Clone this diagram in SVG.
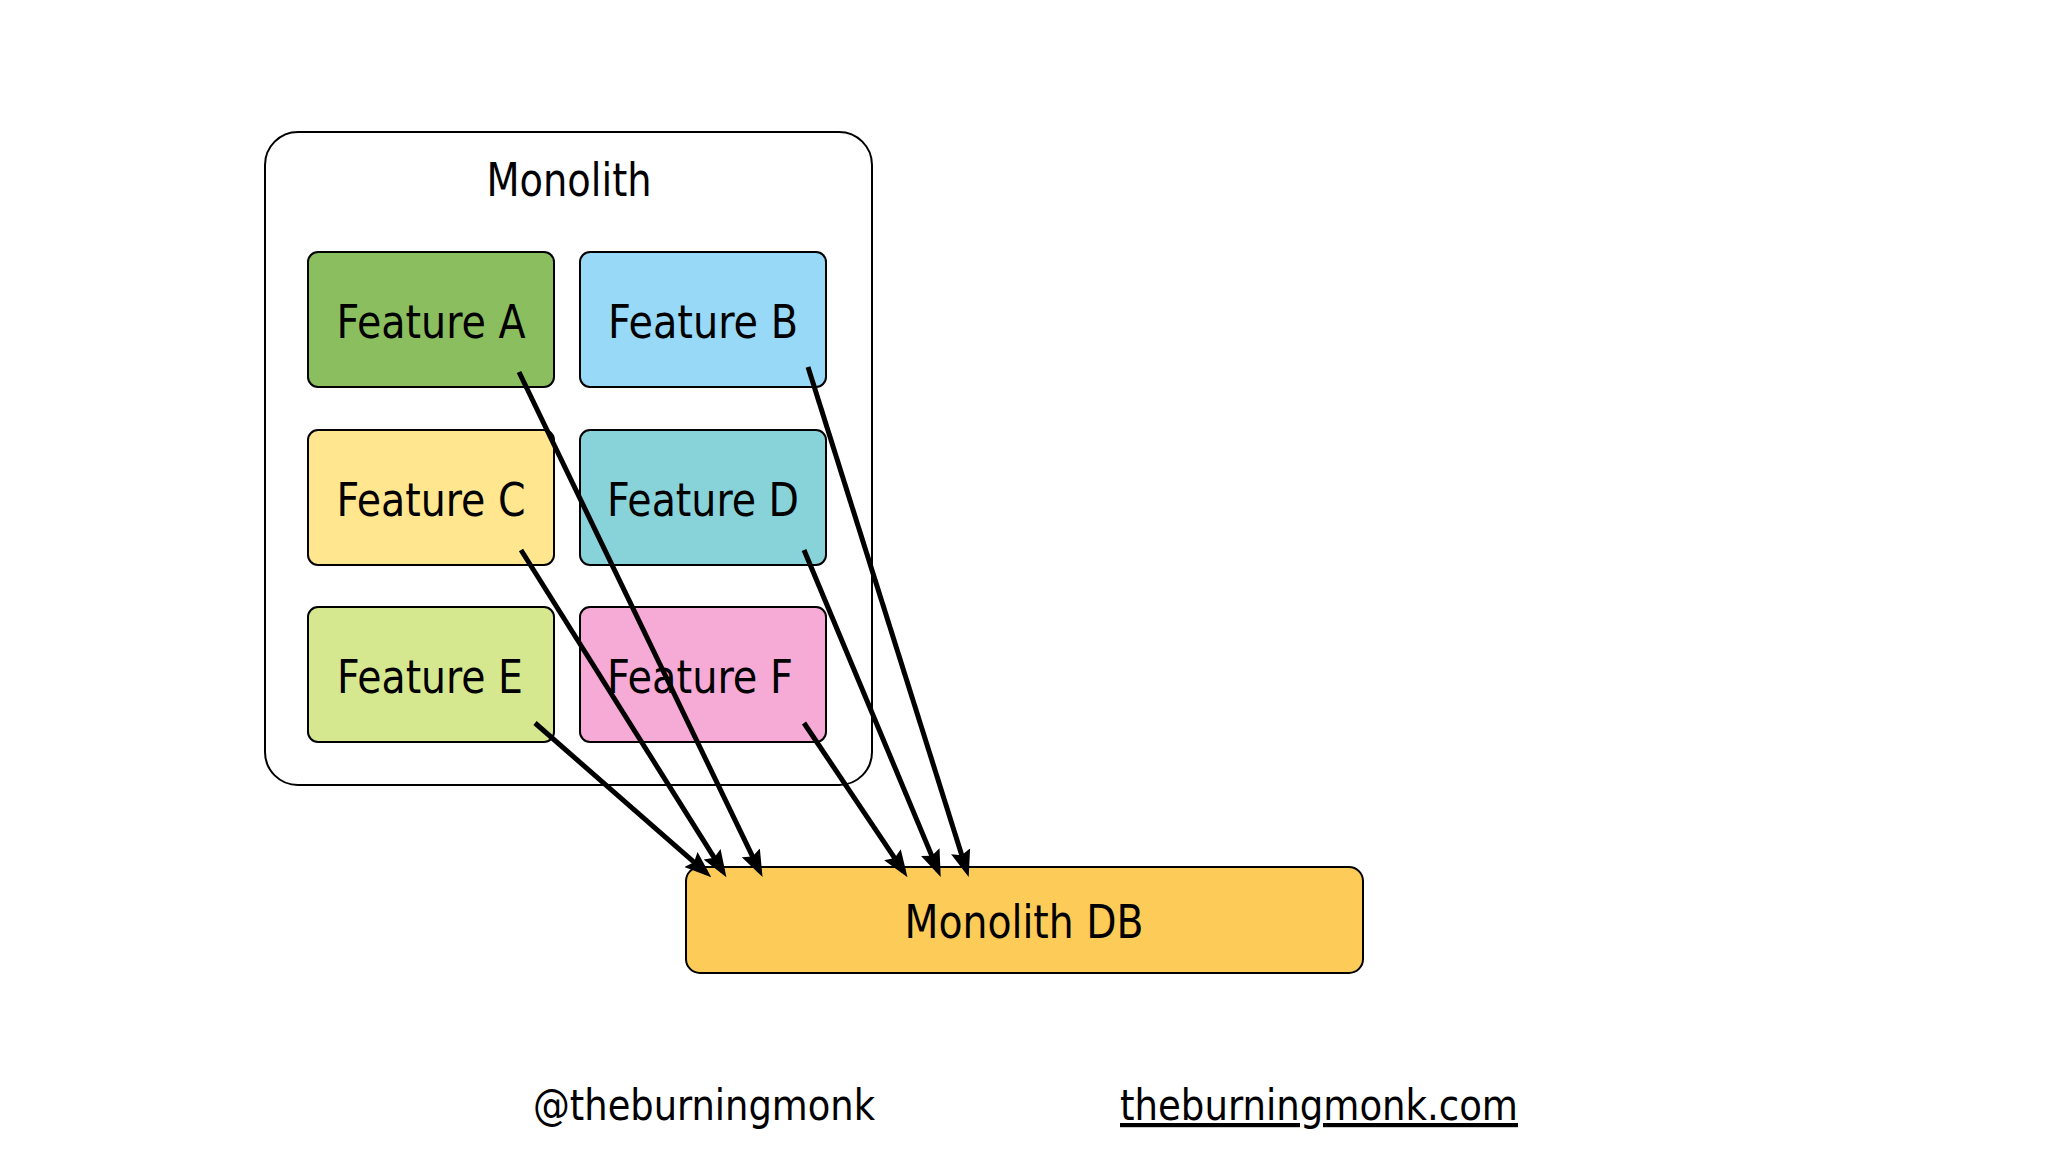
<svg xmlns="http://www.w3.org/2000/svg" width="2048" height="1152" viewBox="0 0 2048 1152">
<style>
.box{stroke:#000;stroke-width:2}
.t{font-family:"DejaVu Sans Condensed","DejaVu Sans",sans-serif;font-stretch:condensed;font-size:46px;fill:#000;text-anchor:middle}
.ft{font-family:"DejaVu Sans Condensed","DejaVu Sans",sans-serif;font-stretch:condensed;font-size:42px;fill:#000}
.c{stroke:#000;stroke-width:5;fill:none;marker-end:url(#ah)}
</style>
<defs>
<marker id="ah" viewBox="0 0 28 22" markerWidth="28" markerHeight="22" refX="20" refY="11" orient="auto" markerUnits="userSpaceOnUse">
<path d="M0,1 L27,11 L0,21 L4,11 z" fill="#000"/>
</marker>
</defs>
<rect width="2048" height="1152" fill="#fff"/>
<g id="monolith">
<rect x="265" y="132" width="607" height="653" rx="33" fill="#fff" class="box"/>
<text x="569" y="196" class="t" textLength="165" lengthAdjust="spacingAndGlyphs">Monolith</text>
</g>
<g id="featureA">
<rect x="308" y="252" width="246" height="135" rx="10" fill="#8ABE5F" class="box"/>
<text x="431" y="338" class="t" textLength="189" lengthAdjust="spacingAndGlyphs">Feature A</text>
</g>
<g id="featureB">
<rect x="580" y="252" width="246" height="135" rx="10" fill="#97D9F6" class="box"/>
<text x="703" y="338" class="t" textLength="190" lengthAdjust="spacingAndGlyphs">Feature B</text>
</g>
<g id="featureC">
<rect x="308" y="430" width="246" height="135" rx="10" fill="#FFE68F" class="box"/>
<text x="431" y="516" class="t" textLength="189" lengthAdjust="spacingAndGlyphs">Feature C</text>
</g>
<g id="featureD">
<rect x="580" y="430" width="246" height="135" rx="10" fill="#88D3D9" class="box"/>
<text x="703" y="516" class="t" textLength="192" lengthAdjust="spacingAndGlyphs">Feature D</text>
</g>
<g id="featureE">
<rect x="308" y="607" width="246" height="135" rx="10" fill="#D5E88F" class="box"/>
<text x="430" y="693" class="t" textLength="186" lengthAdjust="spacingAndGlyphs">Feature E</text>
</g>
<g id="featureF">
<rect x="580" y="607" width="246" height="135" rx="10" fill="#F6AAD6" class="box"/>
<text x="700" y="693" class="t" textLength="186" lengthAdjust="spacingAndGlyphs">Feature F</text>
</g>
<g id="monolithDB">
<rect x="686" y="867" width="677" height="106" rx="14" fill="#FDCB57" class="box"/>
<text x="1024" y="938" class="t" textLength="239" lengthAdjust="spacingAndGlyphs">Monolith DB</text>
</g>
<g id="connectors">
<line class="c" x1="519" y1="372" x2="759.5" y2="870.8"/>
<line class="c" x1="808" y1="367" x2="966.6" y2="870.4"/>
<line class="c" x1="521" y1="550" x2="722.7" y2="871.2"/>
<line class="c" x1="804" y1="550" x2="938" y2="870.6"/>
<line class="c" x1="535" y1="723" x2="706" y2="872.7"/>
<line class="c" x1="804" y1="723" x2="903.6" y2="871.4"/>
</g>
<g id="footer">
<text x="533" y="1120" class="ft" textLength="342" lengthAdjust="spacingAndGlyphs">@theburningmonk</text>
<text x="1120" y="1120" class="ft" textLength="398" lengthAdjust="spacingAndGlyphs" text-decoration="underline">theburningmonk.com</text>
</g>
</svg>
